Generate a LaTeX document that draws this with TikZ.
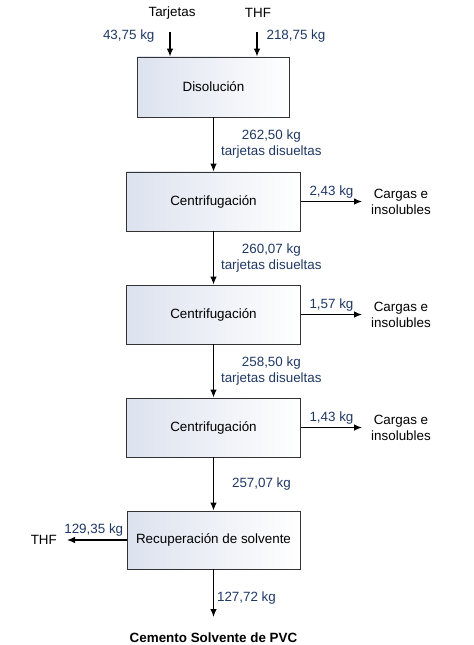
\documentclass[tikz,border=0pt]{standalone}
\usepackage{fontspec}
\setmainfont{Liberation Sans}
\usetikzlibrary{arrows.meta}
\definecolor{flujo}{RGB}{31,56,100}
\definecolor{caja}{RGB}{220,226,238}
\tikzset{pnode/.style = {shape = rectangle,
                         draw = black!80,
                         line width = 0.9bp,
                         left color = caja,
                         right color = white,
                         minimum width = 174bp,
                         minimum height = 59bp,
                         font = \fontsize{13.4bp}{16bp}\selectfont},
         tnode/.style = {align = center,
                         inner sep = 1bp,
                         font = \fontsize{13.4bp}{16bp}\selectfont},
         qnode/.style = {align = center,
                         text = flujo,
                         inner sep = 3bp,
                         font = \fontsize{13.4bp}{16bp}\selectfont},
         flow/.style = {draw, line width = 1.1bp,
                        -{Latex[length=8bp,width=6.5bp]}}}

\begin{document}
\begin{tikzpicture}[x=1bp,y=-1bp]
		\useasboundingbox (0,0) rectangle (474,645);
		% equipos
		\node[pnode, minimum width = 152bp, minimum height = 60bp] (dis) at (213.5,87) {Disolución};
		\node[pnode] (c1) at (213.5,201.5) {Centrifugación};
		\node[pnode] (c2) at (213.5,314.5) {Centrifugación};
		\node[pnode] (c3) at (213.5,427.5) {Centrifugación};
		\node[pnode, minimum width = 173bp, minimum height = 58bp] (rec) at (213.5,540) {Recuperación de solvente};
		% corrientes de entrada
		\node[tnode] (tarj) at (172,13) {Tarjetas};
		\node[tnode] (thfin) at (258,13) {THF};
		\coordinate (in1) at (170,32);
		\coordinate (in2) at (257,32);
		\path (in1) edge[flow] node[qnode, left, pos=0.15, xshift=-12bp] {43,75 kg} (in1 |- dis.north);
		\path (in2) edge[flow] node[qnode, right, pos=0.15, xshift=6bp] {218,75 kg} (in2 |- dis.north);
		% linea principal
		\path (dis) edge[flow] node[qnode, right, xshift=4bp] {262,50 kg\\tarjetas disueltas} (c1);
		\path (c1) edge[flow] node[qnode, right, xshift=4bp] {260,07 kg\\tarjetas disueltas} (c2);
		\path (c2) edge[flow] node[qnode, right, xshift=4bp] {258,50 kg\\tarjetas disueltas} (c3);
		\path (c3) edge[flow] node[qnode, right, xshift=15bp] {257,07 kg} (rec);
		% cargas e insolubles
		\node[tnode, anchor = west, inner xsep = 9bp] (car1) at (362,201.5) {Cargas e\\insolubles};
		\node[tnode, anchor = west, inner xsep = 9bp] (car2) at (362,314.5) {Cargas e\\insolubles};
		\node[tnode, anchor = west, inner xsep = 9bp] (car3) at (362,427.5) {Cargas e\\insolubles};
		\path (c1) edge[flow] node[qnode, above] {2,43 kg} (car1);
		\path (c2) edge[flow] node[qnode, above] {1,57 kg} (car2);
		\path (c3) edge[flow] node[qnode, above] {1,43 kg} (car3);
		% salidas
		\node[tnode, anchor = east, inner xsep = 10bp] (thfout) at (67,540) {THF};
		\path (rec) edge[flow] node[qnode, above, xshift=-3bp] {129,35 kg} (thfout);
		\coordinate (out) at (213.5,617);
		\path (rec) edge[flow] node[qnode, right, pos=0.6] {127,72 kg} (out);
		\node[tnode, font = \fontsize{13.4bp}{16bp}\selectfont\bfseries] (cem) at (213.5,638) {Cemento Solvente de PVC};
	\end{tikzpicture}
\end{document}
